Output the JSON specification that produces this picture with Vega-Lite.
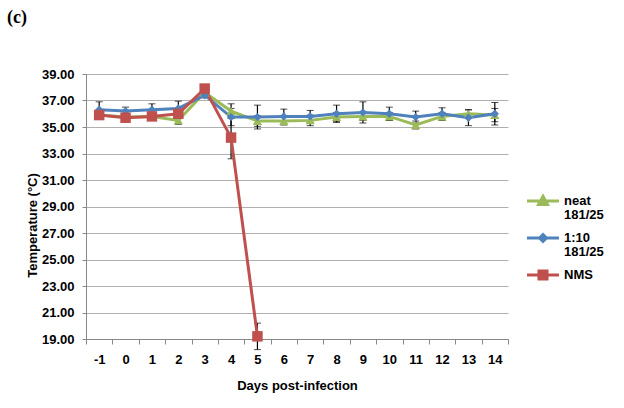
{
  "$schema": "https://vega.github.io/schema/vega-lite/v6.json",
  "autosize": {"type": "none"},
  "width": 422,
  "height": 265,
  "padding": {"left": 86, "top": 74, "right": 116, "bottom": 69},
  "background": "white",
  "title": {"text": "(c)", "anchor": "start", "frame": "group", "font": "Liberation Serif", "fontSize": 18, "fontWeight": "bold", "color": "black", "dx": -79, "offset": 41},
  "config": {
    "view": {"stroke": null},
    "axis": {"labelFont": "Liberation Sans", "titleFont": "Liberation Sans", "labelFontWeight": "bold", "titleFontWeight": "bold", "labelColor": "black", "titleColor": "black", "labelFontSize": 13, "titleFontSize": 13, "domainColor": "#888", "tickColor": "#888"}
  },
  "data": {"values": [
    {"day": -1, "series": "neat 181/25", "temp": 35.9, "err": 0.3},
    {"day": 0, "series": "neat 181/25", "temp": 35.75, "err": 0.3},
    {"day": 1, "series": "neat 181/25", "temp": 35.8, "err": 0.3},
    {"day": 2, "series": "neat 181/25", "temp": 35.5, "err": 0.3},
    {"day": 3, "series": "neat 181/25", "temp": 37.6, "err": 0.3},
    {"day": 4, "series": "neat 181/25", "temp": 36.2, "err": 0.55},
    {"day": 5, "series": "neat 181/25", "temp": 35.45, "err": 0.4},
    {"day": 6, "series": "neat 181/25", "temp": 35.45, "err": 0.3},
    {"day": 7, "series": "neat 181/25", "temp": 35.5, "err": 0.4},
    {"day": 8, "series": "neat 181/25", "temp": 35.75, "err": 0.35},
    {"day": 9, "series": "neat 181/25", "temp": 35.8, "err": 0.3},
    {"day": 10, "series": "neat 181/25", "temp": 35.8, "err": 0.3},
    {"day": 11, "series": "neat 181/25", "temp": 35.15, "err": 0.3},
    {"day": 12, "series": "neat 181/25", "temp": 35.8, "err": 0.3},
    {"day": 13, "series": "neat 181/25", "temp": 36.0, "err": 0.3},
    {"day": 14, "series": "neat 181/25", "temp": 35.9, "err": 0.5},
    {"day": -1, "series": "1:10 181/25", "temp": 36.3, "err": 0.6},
    {"day": 0, "series": "1:10 181/25", "temp": 36.2, "err": 0.3},
    {"day": 1, "series": "1:10 181/25", "temp": 36.3, "err": 0.45},
    {"day": 2, "series": "1:10 181/25", "temp": 36.4, "err": 0.55},
    {"day": 3, "series": "1:10 181/25", "temp": 37.4, "err": 0.2},
    {"day": 4, "series": "1:10 181/25", "temp": 35.75, "err": 0.65},
    {"day": 5, "series": "1:10 181/25", "temp": 35.75, "err": 0.9},
    {"day": 6, "series": "1:10 181/25", "temp": 35.8, "err": 0.55},
    {"day": 7, "series": "1:10 181/25", "temp": 35.8, "err": 0.45},
    {"day": 8, "series": "1:10 181/25", "temp": 36.0, "err": 0.65},
    {"day": 9, "series": "1:10 181/25", "temp": 36.1, "err": 0.8},
    {"day": 10, "series": "1:10 181/25", "temp": 36.0, "err": 0.5},
    {"day": 11, "series": "1:10 181/25", "temp": 35.75, "err": 0.45},
    {"day": 12, "series": "1:10 181/25", "temp": 36.0, "err": 0.45},
    {"day": 13, "series": "1:10 181/25", "temp": 35.7, "err": 0.6},
    {"day": 14, "series": "1:10 181/25", "temp": 36.0, "err": 0.85},
    {"day": -1, "series": "NMS", "temp": 35.9, "err": 0.2},
    {"day": 0, "series": "NMS", "temp": 35.7, "err": 0.2},
    {"day": 1, "series": "NMS", "temp": 35.8, "err": 0.2},
    {"day": 2, "series": "NMS", "temp": 36.0, "err": 0.2},
    {"day": 3, "series": "NMS", "temp": 37.9, "err": 0.2},
    {"day": 4, "series": "NMS", "temp": 34.2, "err": 1.6},
    {"day": 5, "series": "NMS", "temp": 19.2, "err": 1.0}
  ]},
  "encoding": {
    "x": {"field": "day", "type": "ordinal", "bandPosition": 0.5,
      "scale": {"type": "band", "paddingInner": 0, "paddingOuter": 0},
      "axis": {"title": "Days post-infection", "labelAngle": 0, "tickBand": "extent", "tickSize": 5, "labelPadding": 9, "titlePadding": 13, "domainColor": "#888"}},
    "y": {"field": "temp", "type": "quantitative",
      "scale": {"domain": [19, 39], "nice": false, "zero": false},
      "axis": {"title": "Temperature (°C)", "titleX": -54, "titleY": 151, "titleBaseline": "middle", "titleAngle": -90, "titleAlign": "center", "values": [19, 21, 23, 25, 27, 29, 31, 33, 35, 37, 39], "format": ".2f", "gridColor": "#b0b0b0", "grid": true, "tickSize": 4, "labelPadding": 8}}
  },
  "layer": [
    {"mark": {"type": "errorbar", "ticks": {"size": 7, "color": "black", "strokeWidth": 1.5}, "rule": {"color": "black", "strokeWidth": 1.2}},
      "encoding": {"yError": {"field": "err"}, "detail": {"field": "series"}}},
    {"mark": {"type": "line", "strokeWidth": 3},
      "encoding": {"color": {"field": "series", "type": "nominal",
        "scale": {"domain": ["neat 181/25", "1:10 181/25", "NMS"], "range": ["#9BBB59", "#4F81BD", "#C0504D"]},
        "legend": {"title": null, "orient": "none", "legendX": 444, "legendY": 114, "symbolSize": 500, "symbolStrokeWidth": 3, "labelFont": "Liberation Sans", "labelFontWeight": "bold", "labelFontSize": 13, "labelColor": "black", "rowPadding": 3, "labelOffset": 8,
          "labelExpr": "datum.label == 'NMS' ? 'NMS' : split(datum.label, ' ')",
          "encode": {
            "labels": {"update": {"lineHeight": {"value": 14}}},
            "symbols": {"update": {
            "shape": {"signal": "datum.value == 'NMS' ? 'M-1.43,0H1.43M-0.36,-0.36H0.36V0.36H-0.36Z' : (datum.value == 'neat 181/25' ? 'M-1.43,0H1.43M0,-0.42L0.4,0.31H-0.4Z' : 'M-1.43,0H1.43M0,-0.31L0.31,0L0,0.31L-0.31,0Z')"},
            "fill": {"signal": "scale('color', datum.value)"},
            "stroke": {"signal": "scale('color', datum.value)"},
            "strokeWidth": {"value": 3},
            "opacity": {"value": 1}
          }}}}}}},
    {"transform": [{"filter": "datum.series == 'neat 181/25'"}],
      "mark": {"type": "point", "filled": true, "opacity": 1, "size": 85, "shape": "triangle-up"},
      "encoding": {"color": {"field": "series", "type": "nominal", "legend": null}}},
    {"transform": [{"filter": "datum.series == '1:10 181/25'"}],
      "mark": {"type": "point", "filled": true, "opacity": 1, "size": 70, "shape": "diamond"},
      "encoding": {"color": {"field": "series", "type": "nominal", "legend": null}}},
    {"transform": [{"filter": "datum.series == 'NMS'"}],
      "mark": {"type": "point", "filled": true, "opacity": 1, "size": 110, "shape": "square"},
      "encoding": {"color": {"field": "series", "type": "nominal", "legend": null}}}
  ]
}
